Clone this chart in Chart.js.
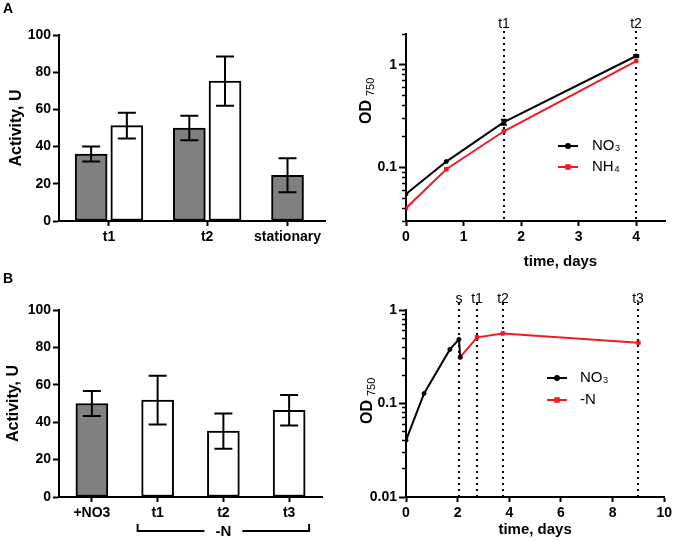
<!DOCTYPE html>
<html>
<head>
<meta charset="utf-8">
<script src="https://cdn.jsdelivr.net/npm/chart.js@4.4.1/dist/chart.umd.min.js"></script>
<style>
  body { margin: 0; background: #fff; }
  #wrap { position: relative; width: 675px; height: 541px; overflow: hidden; }
  #wrap canvas { position: absolute; left: 0; top: 0; }
  .tag { position: absolute; font: bold 14px 'Liberation Sans', Arial, sans-serif; color: #000; }
</style>
</head>
<body>
<div id="wrap">
  <canvas id="a1" width="675" height="541"></canvas>
  <canvas id="a2" width="675" height="541"></canvas>
  <canvas id="b1" width="675" height="541"></canvas>
  <canvas id="b2" width="675" height="541"></canvas>
  <div class="tag" style="left:3px;top:0px">A</div>
  <div class="tag" style="left:3px;top:270px">B</div>
</div>
<script>
// ---- panel A, left: activity at t1 / t2 / stationary
const aGroups = ['t1', 't2', 'stationary'];
const aGray = [36, 50, 24.6];
const aGrayErr = [4, 6.6, 9.1];
const aWhite = [51.3, 75.2, null];
const aWhiteErr = [6.9, 13.2, null];

// ---- panel A, right: growth curves (OD750)
const aDays = [0, 0.7, 1.7, 4];
const aNO3 = [0.055, 0.114, 0.276, 1.22];
const aNO3Err = [0, 0, 0.015, 0.03];
const aNH4 = [0.040, 0.096, 0.225, 1.09];
const aMarkLabels = ['t1', 't2'];
const aMarkDays = [1.7, 4];

// ---- panel B, left: activity with/without nitrogen
const bCats = ['+NO3', 't1', 't2', 't3'];
const bVals = [50, 51.8, 35.2, 46.4];
const bErr = [6.7, 13, 9.4, 8.2];

// ---- panel B, right: growth before/after N removal
const bNO3Days = [0, 0.7, 1.7, 2.05, 2.1];
const bNO3 = [0.0404, 0.128, 0.379, 0.485, 0.313];
const bNDays = [2.1, 2.75, 3.75, 9];
const bN = [0.313, 0.51, 0.562, 0.447];
const bMarkLabels = ['s', 't1', 't2', 't3'];
const bMarkDays = [2.05, 2.75, 3.75, 9];

const FONT = "'Liberation Sans', Arial, sans-serif";
Chart.defaults.font.family = FONT;
Chart.defaults.color = '#000';
Chart.defaults.animation = false;
Chart.defaults.responsive = false;
Chart.defaults.plugins.legend.display = false;
Chart.defaults.plugins.tooltip.enabled = false;

const GRAY = '#808080';
const RED = '#ec1c24';
const tickFont = { size: 14, weight: 'bold' };

// error bars drawn from the dataset's errors array
const errorBars = {
  id: 'errorBars',
  afterDatasetsDraw(chart, args, opts) {
    const { ctx } = chart;
    chart.data.datasets.forEach((ds, i) => {
      if (!ds.errors) return;
      const meta = chart.getDatasetMeta(i);
      const yScale = chart.scales[meta.yAxisID];
      meta.data.forEach((el, j) => {
        const e = ds.errors[j];
        if (!e) return;
        const raw = ds.data[j];
        const v = typeof raw === 'object' ? raw.y : raw;
        const top = yScale.getPixelForValue(v + e);
        const bot = yScale.getPixelForValue(v - e);
        const cap = opts.cap || 9;
        ctx.save();
        ctx.strokeStyle = '#000';
        ctx.lineWidth = 2;
        ctx.beginPath();
        ctx.moveTo(el.x, top); ctx.lineTo(el.x, bot);
        ctx.moveTo(el.x - cap, top); ctx.lineTo(el.x + cap, top);
        ctx.moveTo(el.x - cap, bot); ctx.lineTo(el.x + cap, bot);
        ctx.stroke();
        ctx.restore();
      });
    });
  }
};

// dotted time markers with a label above each
const markers = {
  id: 'markers',
  beforeDatasetsDraw(chart, args, opts) {
    const { ctx, chartArea, scales: { x } } = chart;
    ctx.save();
    opts.values.forEach((v, i) => {
      const px = Math.round(x.getPixelForValue(v));
      ctx.setLineDash([2, 4]);
      ctx.lineWidth = 2;
      ctx.strokeStyle = '#000';
      ctx.beginPath();
      ctx.moveTo(px, chartArea.top - opts.above);
      ctx.lineTo(px, chartArea.bottom);
      ctx.stroke();
      ctx.setLineDash([]);
      ctx.font = '14px ' + FONT;
      ctx.fillStyle = '#000';
      ctx.textAlign = 'center';
      ctx.textBaseline = 'middle';
      ctx.fillText(opts.labels[i], px, chartArea.top - opts.labelGap);
    });
    ctx.restore();
  }
};

// small legend placed inside the plot
const innerLegend = {
  id: 'innerLegend',
  afterDraw(chart, args, opts) {
    const { ctx } = chart;
    chart.data.datasets.forEach((ds, i) => {
      const y = opts.y + i * opts.gap;
      ctx.save();
      ctx.strokeStyle = ds.borderColor;
      ctx.fillStyle = ds.backgroundColor;
      ctx.lineWidth = 2;
      ctx.beginPath();
      ctx.moveTo(opts.x, y);
      ctx.lineTo(opts.x + opts.len, y);
      ctx.stroke();
      Chart.helpers.drawPoint(ctx, { pointStyle: ds.pointStyle, radius: ds.pointRadius, borderWidth: 1 }, opts.x + opts.len / 2, y);
      ctx.fillStyle = '#000';
      ctx.font = '15px ' + FONT;
      ctx.textBaseline = 'middle';
      ctx.fillText(ds.label, opts.x + opts.len + opts.pad, y);
      ctx.restore();
    });
  }
};

// rotated "OD 750" axis label with smaller, lowered digits
const odLabel = {
  id: 'odLabel',
  afterDraw(chart, args, opts) {
    const { ctx } = chart;
    ctx.save();
    ctx.translate(opts.x, opts.y);
    ctx.rotate(-Math.PI / 2);
    ctx.fillStyle = '#000';
    ctx.textBaseline = 'alphabetic';
    ctx.font = 'bold 16px ' + FONT;
    ctx.fillText(opts.main, 0, 0);
    const w = ctx.measureText(opts.main).width;
    ctx.font = '11px ' + FONT;
    ctx.fillText(opts.sub, w + 4, 3);
    ctx.restore();
  }
};

// free text (used for the offset axis title in panel A)
const notes = {
  id: 'notes',
  afterDraw(chart, args, opts) {
    const { ctx, chartArea } = chart;
    (opts.items || []).forEach(n => {
      ctx.save();
      ctx.font = n.font;
      ctx.fillStyle = '#000';
      ctx.textAlign = 'center';
      ctx.textBaseline = 'middle';
      ctx.fillText(n.text, (chartArea.left + chartArea.right) / 2 + n.dx, chartArea.bottom + n.dy);
      ctx.restore();
    });
  }
};

// bracket under some categories
const bracket = {
  id: 'bracket',
  afterDraw(chart, args, opts) {
    const { ctx, scales: { x } } = chart;
    const x1 = x.getPixelForValue(bCats.indexOf(opts.from)) - opts.spread;
    const x2 = x.getPixelForValue(bCats.indexOf(opts.to)) + opts.spread;
    const mid = (x1 + x2) / 2;
    ctx.save();
    ctx.strokeStyle = '#000';
    ctx.lineWidth = 2;
    ctx.beginPath();
    ctx.moveTo(x1, opts.y - opts.h); ctx.lineTo(x1, opts.y); ctx.lineTo(mid - opts.gap, opts.y);
    ctx.moveTo(mid + opts.gap, opts.y); ctx.lineTo(x2, opts.y); ctx.lineTo(x2, opts.y - opts.h);
    ctx.stroke();
    ctx.font = 'bold 15px ' + FONT;
    ctx.fillStyle = '#000';
    ctx.textAlign = 'center';
    ctx.textBaseline = 'middle';
    ctx.fillText(opts.text, mid, opts.y + 1);
    ctx.restore();
  }
};

function axisGrid(len) {
  return { display: true, drawOnChartArea: false, drawTicks: true, tickLength: len, tickColor: '#000', tickWidth: 2, offset: false };
}
const border = { display: true, color: '#000', width: 2 };

// log ticks with minor marks
function logTicks(lo, hi, majors) {
  const vals = [];
  for (let d = -3; d <= 1; d++) {
    for (let k = 1; k <= 9; k++) {
      const v = Number((k * Math.pow(10, d)).toPrecision(3));
      if (v >= lo - 1e-9 && v <= hi + 1e-9) vals.push(v);
    }
  }
  return {
    afterBuildTicks: axis => { axis.ticks = vals.map(v => ({ value: v })); },
    callback: v => majors.includes(v) ? String(v) : '',
    isMajor: v => majors.includes(v)
  };
}

// ---------- A left
let slot = 0;
const grayX = [], whiteX = [], groupX = [];
aGroups.forEach((g, i) => {
  const xs = [];
  if (aGray[i] != null) { grayX[i] = slot; xs.push(slot); slot += 1; }
  if (aWhite[i] != null) { whiteX[i] = slot; xs.push(slot); slot += 1; }
  groupX.push((xs[0] + xs[xs.length - 1]) / 2);
  slot += 0.75;
});

new Chart(document.getElementById('a1'), {
  type: 'bar',
  data: {
    datasets: [
      {
        data: aGray.map((v, i) => ({ x: grayX[i], y: v })).filter(p => p.y != null),
        errors: aGrayErr.filter(e => e != null),
        backgroundColor: GRAY, borderColor: '#000', borderWidth: 2, borderSkipped: false,
        grouped: false, barThickness: 32
      },
      {
        data: aWhite.map((v, i) => ({ x: whiteX[i], y: v })).filter(p => p.y != null),
        errors: aWhiteErr.filter(e => e != null),
        backgroundColor: '#fff', borderColor: '#000', borderWidth: 2, borderSkipped: false,
        grouped: false, barThickness: 32
      }
    ]
  },
  options: {
    layout: { padding: { left: 0, top: 35, right: 350, bottom: 280 } },
    plugins: { errorBars: { cap: 9 } },
    scales: {
      x: {
        type: 'linear', min: -0.9, max: 6.55, offset: false,
        afterBuildTicks: axis => { axis.ticks = groupX.map(v => ({ value: v })); },
        afterFit: s => { s.height = 40; },
        ticks: { font: tickFont, padding: 3, callback: (v, i) => aGroups[i] },
        grid: axisGrid(5), border
      },
      y: {
        min: 0, max: 100,
        afterFit: s => { s.width = 59; },
        ticks: { stepSize: 20, font: tickFont, padding: 2 },
        grid: axisGrid(6), border,
        title: { display: true, text: 'Activity, U', font: { size: 16, weight: 'bold' }, padding: { top: 7, bottom: 0 } }
      }
    }
  },
  plugins: [errorBars]
});

// ---------- A right
const aLog = logTicks(0.03, 2, [0.1, 1]);
new Chart(document.getElementById('a2'), {
  type: 'line',
  data: {
    datasets: [
      {
        label: 'NO₃', data: aDays.map((d, i) => ({ x: d, y: aNO3[i] })), errors: aNO3Err,
        borderColor: '#000', backgroundColor: '#000', borderWidth: 2,
        pointStyle: 'circle', pointRadius: 2, pointBorderWidth: 1
      },
      {
        label: 'NH₄', data: aDays.map((d, i) => ({ x: d, y: aNH4[i] })),
        borderColor: RED, backgroundColor: RED, borderWidth: 2,
        pointStyle: 'rect', pointRadius: 2.5, pointBorderWidth: 1
      }
    ]
  },
  options: {
    layout: { padding: { left: 350, top: 34, right: 10, bottom: 270 } },
    plugins: {
      errorBars: { cap: 3 },
      markers: { values: aMarkDays, labels: aMarkLabels, above: 3, labelGap: 10 },
      innerLegend: { x: 558, y: 146, gap: 21, len: 20, pad: 14 },
      odLabel: { x: 371, y: 124, main: 'OD', sub: '750' },
      notes: { items: [{ text: 'time, days', font: 'bold 15px ' + FONT, dx: 25, dy: 41 }] }
    },
    scales: {
      x: {
        type: 'linear', min: 0, max: 4.5,
        afterBuildTicks: axis => { axis.ticks = [0, 1, 2, 3, 4].map(v => ({ value: v })); },
        afterFit: s => { s.height = 50; },
        ticks: { font: tickFont, padding: 3 },
        grid: axisGrid(5), border
      },
      y: {
        type: 'logarithmic', min: 0.03, max: 2,
        afterBuildTicks: aLog.afterBuildTicks,
        afterFit: s => { s.width = 56; },
        ticks: { font: tickFont, padding: 2, autoSkip: false, callback: aLog.callback },
        grid: Object.assign(axisGrid(7), {
          tickBorderDash: c => (c.tick && aLog.isMajor(c.tick.value)) ? [] : [0, 3, 100],
          tickWidth: c => (c.tick && aLog.isMajor(c.tick.value)) ? 2 : 1.5
        }),
        border
      }
    }
  },
  plugins: [markers, errorBars, innerLegend, odLabel, notes]
});

// ---------- B left
new Chart(document.getElementById('b1'), {
  type: 'bar',
  data: {
    labels: bCats,
    datasets: [{
      data: bVals, errors: bErr,
      backgroundColor: bCats.map((c, i) => i === 0 ? GRAY : '#fff'),
      borderColor: '#000', borderWidth: 2, borderSkipped: false, barThickness: 32
    }]
  },
  options: {
    layout: { padding: { left: 0, top: 310, right: 353, bottom: 4 } },
    plugins: {
      errorBars: { cap: 9 },
      bracket: { from: 't1', to: 't3', spread: 20, y: 531, h: 7, gap: 19, text: '-N' }
    },
    scales: {
      x: {
        afterFit: s => { s.height = 40; },
        ticks: { font: tickFont, padding: 3 },
        grid: axisGrid(5), border
      },
      y: {
        min: 0, max: 100,
        afterFit: s => { s.width = 59; },
        ticks: { stepSize: 20, font: tickFont, padding: 2 },
        grid: axisGrid(6), border,
        title: { display: true, text: 'Activity, U', font: { size: 16, weight: 'bold' }, padding: { top: 4, bottom: 0 } }
      }
    }
  },
  plugins: [errorBars, bracket]
});

// ---------- B right
const bLog = logTicks(0.01, 1, [0.01, 0.1, 1]);
new Chart(document.getElementById('b2'), {
  type: 'line',
  data: {
    datasets: [
      {
        label: 'NO₃', data: bNO3Days.map((d, i) => ({ x: d, y: bNO3[i] })),
        borderColor: '#000', backgroundColor: '#000', borderWidth: 2,
        pointStyle: 'circle', pointRadius: 2, pointBorderWidth: 1
      },
      {
        label: '-N', data: bNDays.map((d, i) => ({ x: d, y: bN[i] })),
        borderColor: RED, backgroundColor: RED, borderWidth: 2,
        pointStyle: 'rect', pointRadius: 2.5, pointBorderWidth: 1
      }
    ]
  },
  options: {
    layout: { padding: { left: 350, top: 310, right: 10, bottom: 2 } },
    plugins: {
      markers: { values: bMarkDays, labels: bMarkLabels, above: 7, labelGap: 11 },
      innerLegend: { x: 547, y: 378, gap: 22, len: 20, pad: 13 },
      odLabel: { x: 372, y: 424, main: 'OD', sub: '750' }
    },
    scales: {
      x: {
        type: 'linear', min: 0, max: 10,
        afterBuildTicks: axis => { axis.ticks = [0, 2, 4, 6, 8, 10].map(v => ({ value: v })); },
        afterFit: s => { s.height = 42; },
        ticks: { font: tickFont, padding: 3 },
        grid: axisGrid(5), border,
        title: { display: true, text: 'time, days', font: { size: 15, weight: 'bold' }, padding: { top: 0, bottom: 0 } }
      },
      y: {
        type: 'logarithmic', min: 0.01, max: 1,
        afterBuildTicks: bLog.afterBuildTicks,
        afterFit: s => { s.width = 56; },
        ticks: { font: tickFont, padding: 2, autoSkip: false, callback: bLog.callback },
        grid: Object.assign(axisGrid(7), {
          tickBorderDash: c => (c.tick && bLog.isMajor(c.tick.value)) ? [] : [0, 3, 100],
          tickWidth: c => (c.tick && bLog.isMajor(c.tick.value)) ? 2 : 1.5
        }),
        border
      }
    }
  },
  plugins: [markers, innerLegend, odLabel]
});
</script>
</body>
</html>
